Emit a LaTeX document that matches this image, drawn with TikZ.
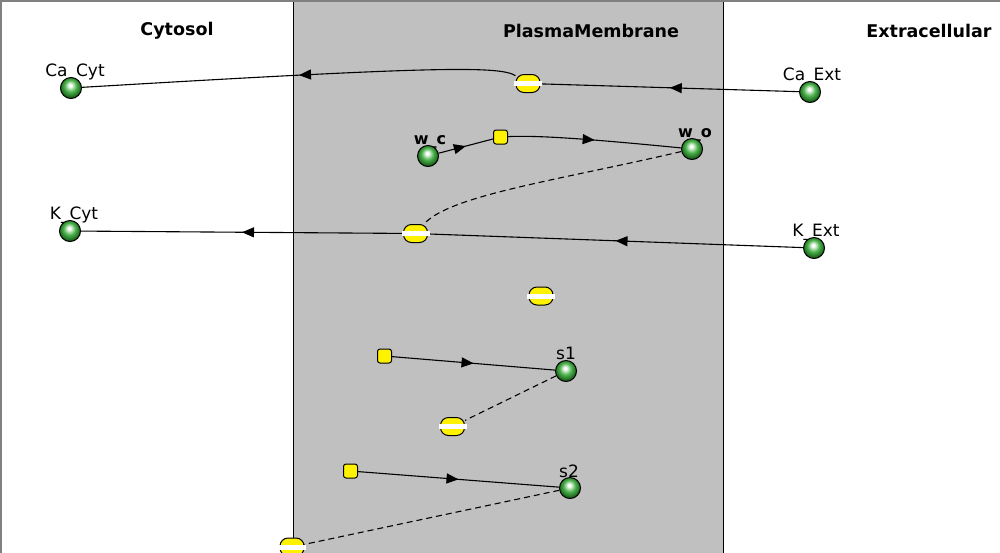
\documentclass[tikz,border=0pt]{standalone}
\usepackage{fontspec}
\setmainfont{DejaVu Sans}
\usetikzlibrary{arrows.meta,decorations.markings}
\definecolor{membrane}{RGB}{192,192,192}
\definecolor{framegray}{RGB}{128,128,128}
\definecolor{ballgreen}{RGB}{45,165,45}
\pgfdeclareradialshading{speciesball}{\pgfpoint{-2bp}{7bp}}{color(0bp)=(white); color(3bp)=(white); color(14bp)=(ballgreen!85!white); color(25bp)=(ballgreen!60!black); color(32bp)=(ballgreen!45!black); color(50bp)=(ballgreen!45!black)}
\tikzset{
  species/.style={circle,draw=black,line width=1pt,minimum size=21pt,inner sep=0pt,shading=speciesball},
  process/.style={draw=black,fill=yellow,line width=1pt,rounded corners=8pt,minimum width=24pt,minimum height=18pt,inner sep=0pt},
  transition/.style={draw=black,fill=yellow,line width=1pt,rounded corners=2.5pt,minimum size=14pt,inner sep=0pt},
  bar/.style={fill=white},
  flow/.style={line width=1.1pt},
  midarrow/.style={postaction={decorate},decoration={markings,mark=at position 0.5 with {\arrow{Triangle[length=12pt,width=10pt]}}}},
  modifier/.style={line width=1.1pt,dash pattern=on 6pt off 4pt},
  comptitle/.style={font=\fontsize{17.5}{20}\selectfont\bfseries},
  spname/.style={font=\fontsize{17}{20}\selectfont,anchor=base},
}
\begin{document}
\begin{tikzpicture}[x=1pt,y=-1pt]
  \useasboundingbox (0,0) rectangle (1000,552);
  % compartments
  \fill[membrane] (293.5,0) rectangle (723.5,560);
  \draw[line width=1pt] (293.5,560) -- (293.5,0);
  \draw[line width=1pt] (723.5,560) -- (723.5,0);
  \draw[framegray,line width=3pt] (0,560) -- (0,0) -- (1000,0);
  \node[comptitle] (cytosol) at (177,31) {Cytosol};
  \node[comptitle] (plasma) at (591,31) {PlasmaMembrane};
  \node[comptitle] (extra) at (929,31) {Extracellular};
  % species
  \node[spname] (ca_cyt_l) at (75,76) {Ca\_Cyt};
  \node[spname] (ca_ext_l) at (812,80) {Ca\_Ext};
  \node[spname,font=\fontsize{16}{20}\selectfont\bfseries] (w_c_l) at (430,144) {w\_c};
  \node[spname,font=\fontsize{16}{20}\selectfont\bfseries] (w_o_l) at (695,137) {w\_o};
  \node[spname] (k_cyt_l) at (74,219) {K\_Cyt};
  \node[spname] (k_ext_l) at (816,236) {K\_Ext};
  \node[spname] (s1_l) at (566,359) {s1};
  \node[spname] (s2_l) at (569,477) {s2};
  \node[species] (ca_cyt) at (71,88) {};
  \node[species] (ca_ext) at (810,92) {};
  \node[species] (w_c) at (428,156) {};
  \node[species] (w_o) at (692,149) {};
  \node[species] (k_cyt) at (70,231) {};
  \node[species] (k_ext) at (814,248) {};
  \node[species] (s1) at (566,371) {};
  \node[species] (s2) at (570,488) {};
  % processes
  \node[process] (ca_chan) at (528,83.5) {};
  \node[process] (k_chan) at (415.5,233.5) {};
  \node[process] (free) at (541,296) {};
  \node[process] (s1_chan) at (452.5,426.5) {};
  \node[process] (s2_chan) at (292,547) {};
  \node[transition] (t_open) at (500.5,137) {};
  \node[transition] (t_s1) at (384.5,356) {};
  \node[transition] (t_s2) at (350.5,471) {};
  % arcs
  \draw[flow,midarrow] (ca_ext) -- (ca_chan);
  \draw[flow,midarrow] (ca_chan) .. controls (500,66) and (440,66) .. (ca_cyt);
  \draw[flow,midarrow] (w_c) -- (t_open);
  \draw[flow,midarrow] (t_open) .. controls (540,135) and (600,140) .. (w_o);
  \draw[modifier] (w_o) .. controls (560,180) and (450,195) .. (k_chan);
  \draw[flow,midarrow] (k_ext) -- (k_chan);
  \draw[flow,midarrow] (k_chan) -- (k_cyt);
  \draw[flow,midarrow] (t_s1) -- (s1);
  \draw[modifier] (s1) -- (s1_chan);
  \draw[flow,midarrow] (t_s2) -- (s2);
  \draw[modifier] (s2) -- (s2_chan);
  % white bars
  \fill[bar] ([shift={(-1.5pt,2.5pt)}]ca_chan.west) rectangle ([shift={(1.5pt,-2.5pt)}]ca_chan.east);
  \fill[bar] ([shift={(-1.5pt,2.5pt)}]k_chan.west) rectangle ([shift={(1.5pt,-2.5pt)}]k_chan.east);
  \fill[bar] ([shift={(-1.5pt,2.5pt)}]free.west) rectangle ([shift={(1.5pt,-2.5pt)}]free.east);
  \fill[bar] ([shift={(-1.5pt,2.5pt)}]s1_chan.west) rectangle ([shift={(1.5pt,-2.5pt)}]s1_chan.east);
  \fill[bar] ([shift={(-1.5pt,2.5pt)}]s2_chan.west) rectangle ([shift={(1.5pt,-2.5pt)}]s2_chan.east);
\end{tikzpicture}
\end{document}
